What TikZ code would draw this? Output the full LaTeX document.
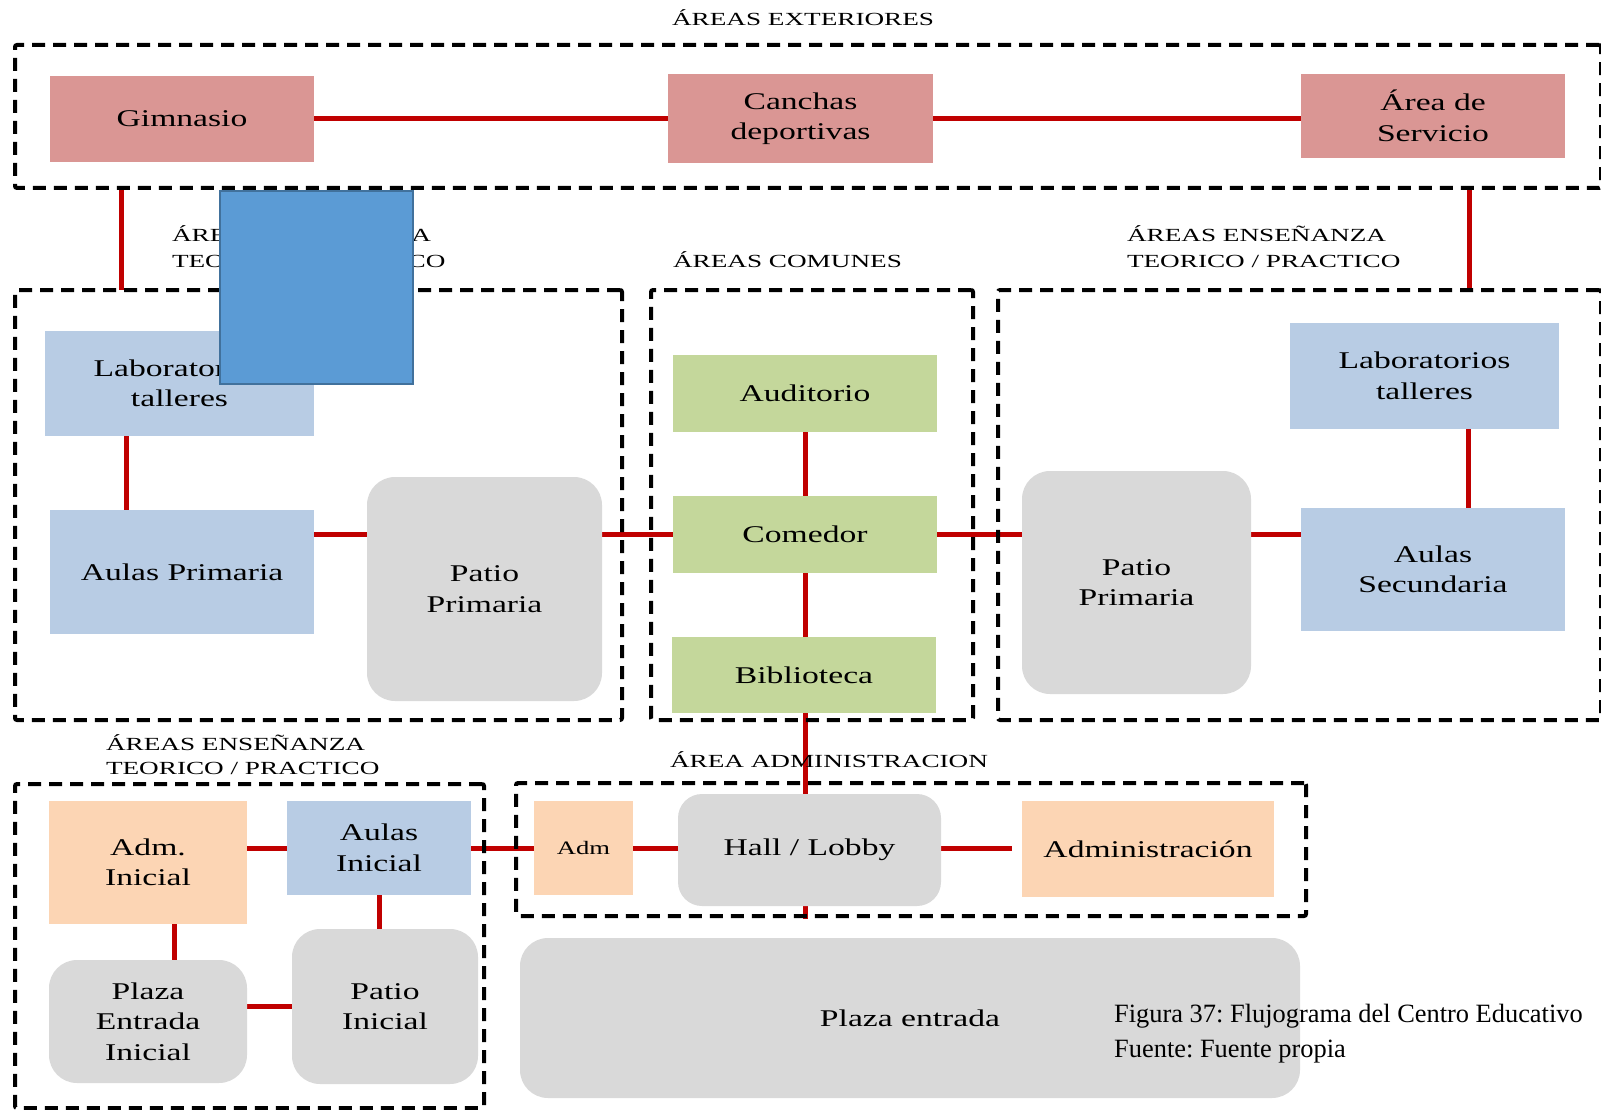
\documentclass[tikz,border=0pt]{standalone}
\usepackage{fontspec}
\usetikzlibrary{backgrounds}
\newfontfamily\boxfont[FakeStretch=1.4]{Liberation Serif}
\newfontfamily\areafont[FakeStretch=1.47]{Liberation Serif}
\newfontfamily\capfont{Liberation Serif}
\definecolor{pinkc}{HTML}{DA9694}
\definecolor{bluec}{HTML}{B8CCE4}
\definecolor{greenc}{HTML}{C4D79B}
\definecolor{peachc}{HTML}{FCD5B4}
\definecolor{grayc}{HTML}{D9D9D9}
\definecolor{linkred}{HTML}{C00000}
\definecolor{shadefill}{HTML}{5B9BD5}
\definecolor{shadeedge}{HTML}{41719C}
% style, name, x1, y1, x2, y2, text
\newcommand\placebox[7]{%
  \node[#1, minimum width={#5pt-#3pt}, minimum height={#6pt-#4pt}]
    (#2) at ({(#3+#5)/2},{(#4+#6)/2}) {#7};}
\tikzset{
  box/.style={rectangle, inner sep=0pt, outer sep=0pt, align=center,
    font=\boxfont\fontsize{24}{30.5}\selectfont, text=black},
  pinkbox/.style={box, fill=pinkc},
  bluebox/.style={box, fill=bluec},
  greenbox/.style={box, fill=greenc},
  peachbox/.style={box, fill=peachc},
  graybox/.style={box, fill=grayc, rounded corners=28pt},
  frame/.style={rectangle, draw=black, line width=4pt, dash pattern=on 13pt off 8pt,
    rounded corners=2pt, inner sep=0pt, outer sep=0pt},
  link/.style={draw=linkred, line width=5pt},
  arealabel/.style={font=\areafont\fontsize{18.5}{25}\selectfont, inner sep=0pt,
    outer sep=0pt, anchor=base west},
  caption/.style={font=\capfont\fontsize{26.4}{32}\selectfont\frenchspacing,
    inner sep=0pt, anchor=base west},
}
\begin{document}
\begin{tikzpicture}[x=1pt, y=-1pt]
\useasboundingbox (0,0) rectangle (1601,1110);

% zone frames
\placebox{frame}{fExt}{15}{45}{1601}{188}{}
\placebox{frame}{fLeft}{15}{290}{622}{720}{}
\placebox{frame}{fMid}{651}{290}{973}{720}{}
\placebox{frame}{fRight}{998}{290}{1601}{720}{}
\placebox{frame}{fIni}{15}{784}{484}{1108}{}
\placebox{frame}{fAdm}{516}{783}{1306}{916}{}

% zone titles
\node[arealabel] (tExt) at (672,26) {ÁREAS EXTERIORES};
\node[arealabel] (tLeftA) at (172,242) {ÁREAS ENSEÑANZA};
\node[arealabel] (tLeftB) at (172,267) {TEORICO / PRACTICO};
\node[arealabel] (tMid) at (673,267) {ÁREAS COMUNES};
\node[arealabel] (tRightA) at (1127,242) {ÁREAS ENSEÑANZA};
\node[arealabel] (tRightB) at (1127,267) {TEORICO / PRACTICO};
\node[arealabel] (tIniA) at (106,750) {ÁREAS ENSEÑANZA};
\node[arealabel] (tIniB) at (106,774) {TEORICO / PRACTICO};
\node[arealabel] (tAdm) at (670,767) {ÁREA ADMINISTRACION};

% outdoor areas
\placebox{pinkbox}{gym}{50}{76}{314}{162}{Gimnasio}
\placebox{pinkbox}{canchas}{668}{74}{933}{163}{Canchas\\deportivas}
\placebox{pinkbox}{serv}{1301}{74}{1565}{158}{Área de\\Servicio}

% primary teaching block
\placebox{bluebox}{labL}{45}{331}{314}{436}{Laboratorios\\talleres}
\placebox{bluebox}{aulasP}{50}{510}{314}{634}{Aulas Primaria}
\placebox{graybox}{patioL}{367}{477}{602}{701}{Patio\\Primaria}

% common areas
\placebox{greenbox}{aud}{673}{355}{937}{432}{Auditorio}
\placebox{greenbox}{com}{673}{496}{937}{573}{Comedor}
\placebox{greenbox}{bib}{672}{637}{936}{713}{Biblioteca}

% secondary teaching block
\placebox{graybox}{patioR}{1022}{471}{1251}{694}{Patio\\Primaria}
\placebox{bluebox}{labR}{1290}{323}{1559}{429}{Laboratorios\\talleres}
\placebox{bluebox}{aulasS}{1301}{508}{1565}{631}{Aulas\\Secundaria}

% initial level block
\placebox{peachbox}{admI}{49}{801}{247}{924}{Adm.\\Inicial}
\placebox{bluebox}{aulasI}{287}{801}{471}{895}{Aulas\\Inicial}
\placebox{graybox}{plazaI}{49}{960}{247}{1083}{Plaza\\Entrada\\Inicial}
\placebox{graybox}{patioI}{292}{929}{478}{1084}{Patio\\Inicial}

% administration
\placebox{peachbox}{adm}{534}{801}{633}{895}{\fontsize{19}{24}\selectfont Adm}
\placebox{graybox, rounded corners=24pt}{hall}{678}{794}{941}{906}{Hall / Lobby}
\placebox{peachbox}{admin}{1022}{801}{1274}{897}{Administración}
\placebox{graybox}{plaza}{520}{938}{1300}{1098}{Plaza entrada}

% helper points for the connectors
\coordinate (extL) at ([xshift=106pt]fExt.south west);
\coordinate (leftTop) at ([xshift=106pt]fLeft.north west);
\coordinate (extR) at ([xshift=-132pt]fExt.south east);
\coordinate (rightTop) at ([xshift=-132pt]fRight.north east);
\coordinate (labLout) at ([xshift=81.5pt]labL.south west);
\coordinate (labRout) at ([xshift=178pt]labR.south west);
\coordinate (admIout) at ([xshift=125.5pt]admI.south west);
\coordinate (adminIn) at ([xshift=-10pt]admin.west);
\coordinate (hallEnd) at (805,919);

\begin{pgfonlayer}{background}
\draw[link] (gym.east) -- (canchas.west |- gym.east);
\draw[link] (canchas.east |- gym.east) -- (serv.west |- gym.east);
\draw[link] (extL) -- (leftTop);
\draw[link] (extR) -- (rightTop);
\draw[link] (labLout) -- (labLout |- aulasP.north);
\draw[link] (aulasP.east |- com.west) -- (patioL.west |- com.west);
\draw[link] (patioL.east |- com.west) -- (com.west);
\draw[link] (com.east) -- (patioR.west |- com.east);
\draw[link] (patioR.east |- com.east) -- (aulasS.west |- com.east);
\draw[link] (labRout) -- (labRout |- aulasS.north);
\draw[link] (aud.south) -- (com.north);
\draw[link] (com.south) -- (com.south |- bib.north);
\draw[link] (com.south |- bib.south) -- (hallEnd);
\draw[link] (admI.east |- aulasI.west) -- (aulasI.west);
\draw[link] (aulasI.east) -- (adm.west |- aulasI.east);
\draw[link] (adm.east) -- (hall.west |- adm.east);
\draw[link] (hall.east |- adm.east) -- (adminIn |- adm.east);
\draw[link] (admIout) -- (admIout |- plazaI.north);
\draw[link] (aulasI.south) -- (aulasI.south |- patioI.north);
\draw[link] (plazaI.east |- patioI.west) -- (patioI.west);
\end{pgfonlayer}

% plain blue block
\node[rectangle, draw=shadeedge, fill=shadefill, line width=1.5pt, inner sep=0pt,
  minimum width=193pt, minimum height=193pt] (shade) at (316.5,287.5) {};

% caption
\node[caption] (capA) at (1114,1022) {Figura 37: Flujograma del Centro Educativo};
\node[caption] (capB) at (1114,1057) {Fuente: Fuente propia};
\end{tikzpicture}
\end{document}
